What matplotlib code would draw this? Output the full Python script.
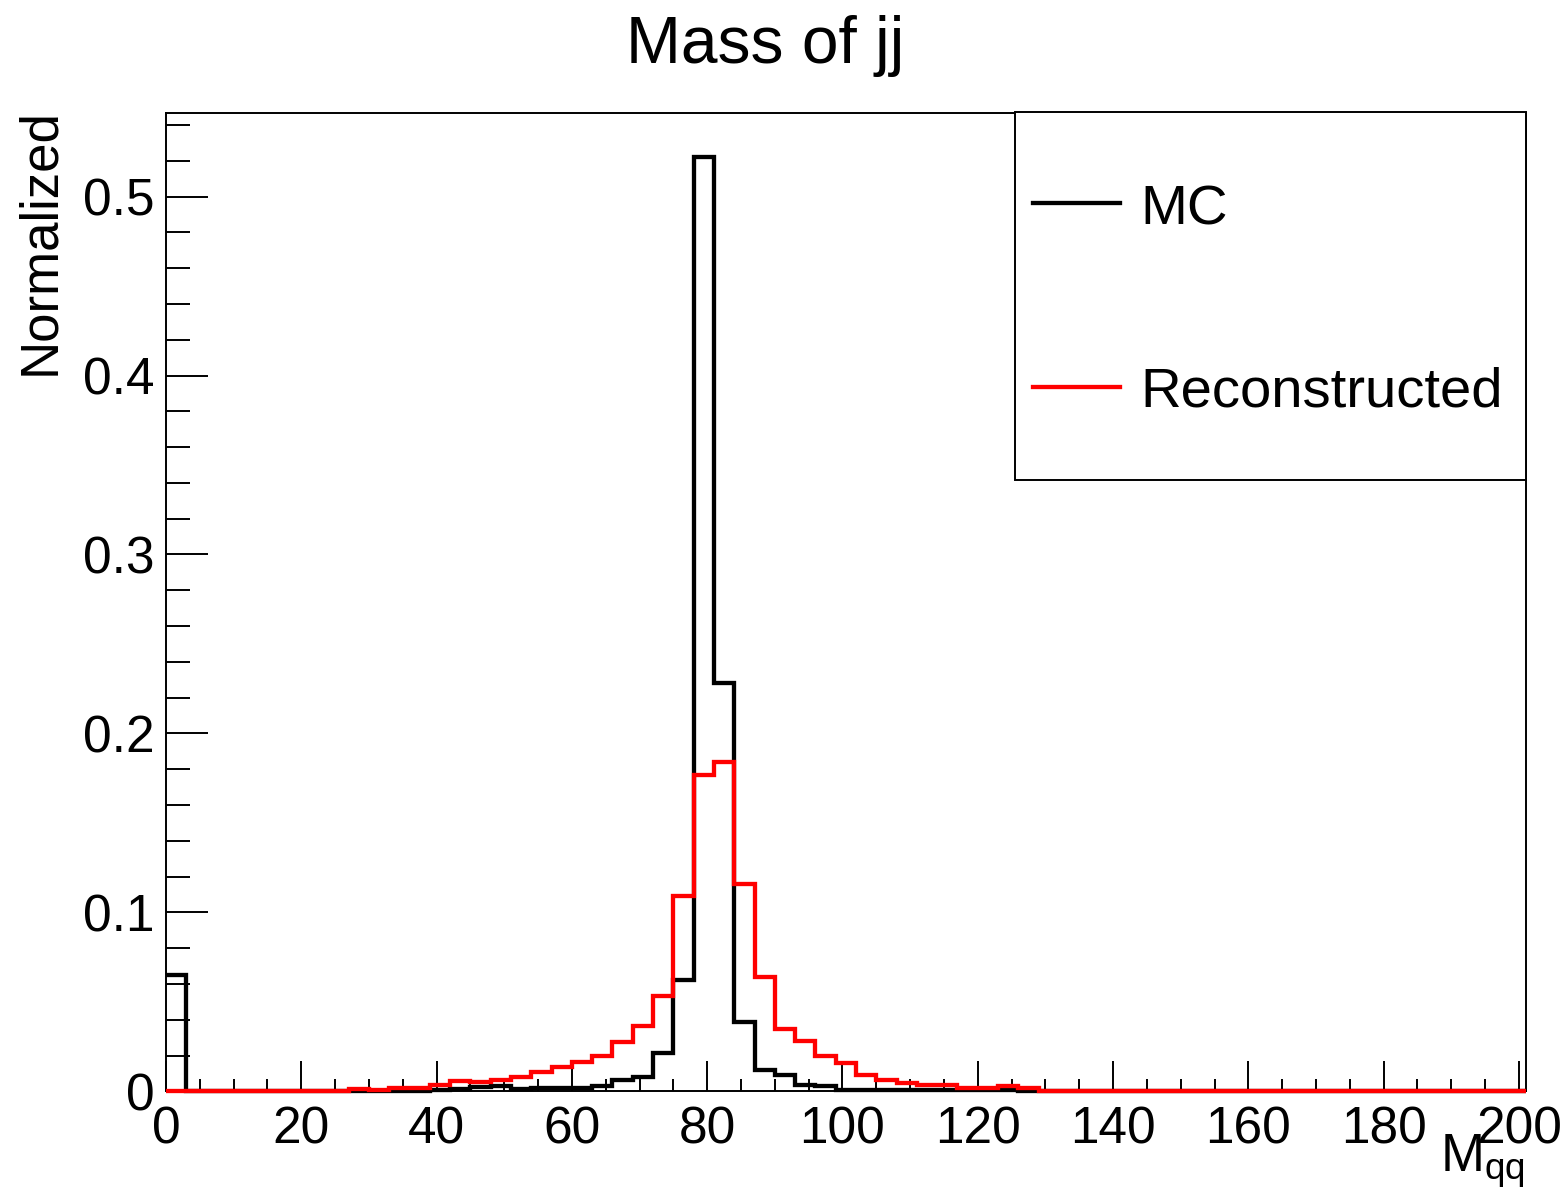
import numpy as np
import matplotlib
matplotlib.use("Agg")
import matplotlib.pyplot as plt
from matplotlib.lines import Line2D
from matplotlib.patches import Rectangle
from matplotlib.ticker import MultipleLocator

plt.rcParams["font.family"] = ["Liberation Sans", "DejaVu Sans"]
plt.rcParams["mathtext.default"] = "regular"

# histogram binning: 67 bins of 3 GeV from 0 to 201
bin_width = 3.0
n_bins = 67

# normalised bin contents, bins 0..42 (everything above is empty)
mc_values = [
    0.065, 0, 0, 0, 0, 0, 0, 0, 0, 0,
    0, 0.0003, 0.0003, 0.001, 0.0015, 0.0025, 0.003, 0.0012, 0.002, 0.002,
    0.0018, 0.003, 0.0064, 0.0082, 0.0213, 0.0623, 0.5224, 0.2284, 0.039, 0.012,
    0.009, 0.0036, 0.0027, 0.001, 0.001, 0.0005, 0.0005, 0.0005, 0.0005, 0.0005,
    0.0005, 0.001, 0,
]
reco_values = [
    0, 0, 0, 0, 0, 0, 0, 0, 0, 0.0015,
    0.0005, 0.002, 0.002, 0.0034, 0.006, 0.005, 0.0063, 0.0078, 0.0106, 0.0138,
    0.0165, 0.020, 0.0276, 0.0366, 0.053, 0.109, 0.177, 0.184, 0.116, 0.064,
    0.035, 0.028, 0.020, 0.0157, 0.0092, 0.0064, 0.0049, 0.0036, 0.0036, 0.0021,
    0.0021, 0.0032, 0.0017,
]
labels = ["MC", "Reconstructed"]
colors = ["black", "#ff0000"]

edges = np.arange(n_bins + 1) * bin_width
mc = np.zeros(n_bins)
mc[: len(mc_values)] = mc_values
reco = np.zeros(n_bins)
reco[: len(reco_values)] = reco_values

W, H = 1566, 1189
fig = plt.figure(figsize=(W / 100, H / 100), dpi=100)
ax = fig.add_axes([166 / W, 1 - 1091.3 / H, (1525.7 - 166) / W, (1091.3 - 112.5) / H])

lw = 3.1
# ROOT does not clip the outline, so the empty bins show along the x axis
ax.stairs(mc, edges, color=colors[0], linewidth=lw, baseline=None,
          clip_on=False, zorder=3)
ax.stairs(reco, edges, color=colors[1], linewidth=lw, baseline=None,
          clip_on=False, zorder=3.1)

ax.set_xlim(0, 201)
ax.set_ylim(0, 0.547)

ax.xaxis.set_major_locator(MultipleLocator(20))
ax.xaxis.set_minor_locator(MultipleLocator(5))
ax.yaxis.set_major_locator(MultipleLocator(0.1))
ax.yaxis.set_minor_locator(MultipleLocator(0.02))
ax.set_xticks(np.arange(0, 201, 20))
ax.set_xticklabels([str(v) for v in range(0, 201, 20)])
ax.set_yticks([0, 0.1, 0.2, 0.3, 0.4, 0.5])
ax.set_yticklabels(["0", "0.1", "0.2", "0.3", "0.4", "0.5"])

ax.tick_params(axis="both", which="both", direction="in", top=False, right=False,
               width=1.4, labelsize=37)
ax.tick_params(axis="x", which="major", length=21.5, pad=10.5)
ax.tick_params(axis="x", which="minor", length=8.6)
ax.tick_params(axis="y", which="major", length=30, pad=8)
ax.tick_params(axis="y", which="minor", length=17)
for sp in ax.spines.values():
    sp.set_linewidth(1.4)

# legend box in the ROOT style (top right corner of the frame)
ax.add_patch(Rectangle((0.6244, 0.6245), 0.3756, 0.3755, transform=ax.transAxes,
                       facecolor="white", edgecolor="black", linewidth=1.4,
                       zorder=5, clip_on=False))
for lab, col, yl, yt in zip(labels, colors, [0.9075, 0.7196], [0.8851, 0.6994]):
    ax.add_line(Line2D([0.6376, 0.7016], [yl, yl], transform=ax.transAxes,
                       color=col, linewidth=lw, zorder=6))
    ax.text(0.7163, yt, lab, transform=ax.transAxes, fontsize=40.5,
            va="baseline", ha="left", zorder=6)

fig.text(765 / W, 1 - 63.3 / H, "Mass of jj", fontsize=47.5, ha="center", va="baseline")
fig.text(40 / W, 1 - 108 / H, "Normalized", fontsize=38, rotation=90,
         ha="center", va="top")
fig.text(1525 / W, 1 - 1171.7 / H, r"M$_{qq}$", fontsize=38, ha="right", va="baseline")

fig.savefig("out.png", dpi=100)
